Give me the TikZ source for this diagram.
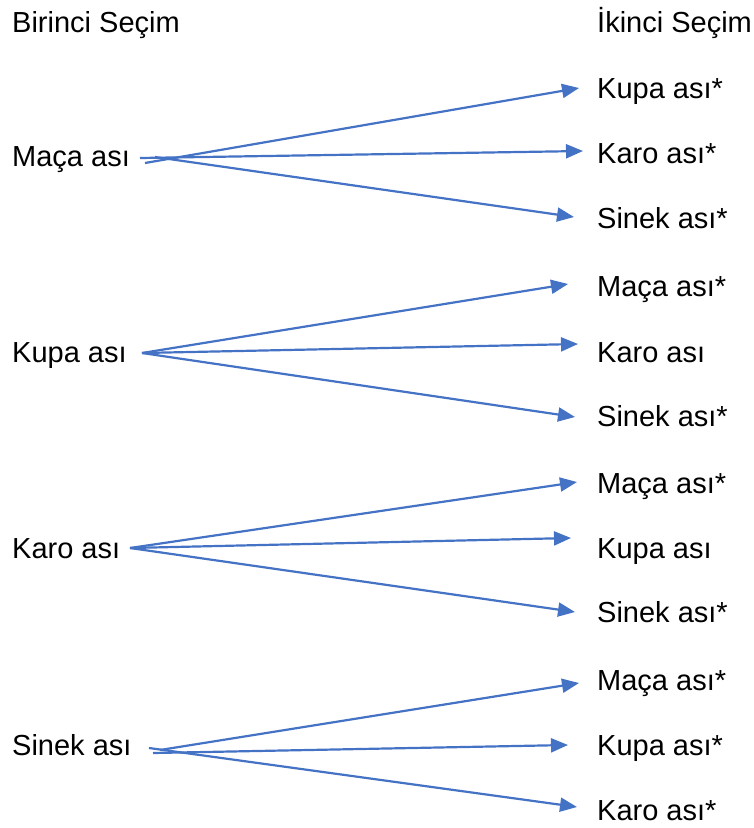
\documentclass[tikz,border=0pt]{standalone}
\usepackage{fontspec}
\setmainfont{Liberation Sans}
\usetikzlibrary{arrows.meta}
\definecolor{arrowblue}{HTML}{4472C4}
\begin{document}
\begin{tikzpicture}[x=1pt,y=-1pt,
  lbl/.style={anchor=base west,inner sep=0pt,font=\fontsize{29}{35}\selectfont},
  conn/.style={draw=arrowblue,line width=2.2pt,-{Triangle[length=17pt,width=14pt]}}]
\useasboundingbox (0,0) rectangle (754,828);
% headers
\node[lbl] (h1) at (12,32) {Birinci Seçim};
\node[lbl] (h2) at (597,32) {İkinci Seçim};
% first choices
\node[lbl] (l1) at (12,166) {Maça ası};
\node[lbl] (l2) at (12,362) {Kupa ası};
\node[lbl] (l3) at (12,558) {Karo ası};
\node[lbl] (l4) at (12,755) {Sinek ası};
% second choices
\node[lbl] (r11) at (597,98) {Kupa ası*};
\node[lbl] (r12) at (597,163) {Karo ası*};
\node[lbl] (r13) at (597,228) {Sinek ası*};
\node[lbl] (r21) at (597,296) {Maça ası*};
\node[lbl] (r22) at (597,362) {Karo ası};
\node[lbl] (r23) at (597,426) {Sinek ası*};
\node[lbl] (r31) at (597,493) {Maça ası*};
\node[lbl] (r32) at (597,558) {Kupa ası};
\node[lbl] (r33) at (597,622) {Sinek ası*};
\node[lbl] (r41) at (597,690) {Maça ası*};
\node[lbl] (r42) at (597,755) {Kupa ası*};
\node[lbl] (r43) at (597,820) {Karo ası*};
% start points
\coordinate (s11) at (145,163);
\coordinate (s12) at (140,158);
\coordinate (s13) at (155,157);
\coordinate (s2) at (142,353);
\coordinate (s3) at (130,548);
\coordinate (s41) at (160,750);
\coordinate (s42) at (153,753);
\coordinate (s43) at (149,748);
% end points
\coordinate (e11) at (579,88);
\coordinate (e12) at (583,151);
\coordinate (e13) at (574,217);
\coordinate (e21) at (568,284);
\coordinate (e22) at (578,344);
\coordinate (e23) at (575,417);
\coordinate (e31) at (577,482);
\coordinate (e32) at (571,538);
\coordinate (e33) at (575,612);
\coordinate (e41) at (579,683);
\coordinate (e42) at (568,745);
\coordinate (e43) at (577,807);
% connectors
\draw[conn] (s11) -- (e11);
\draw[conn] (s12) -- (e12);
\draw[conn] (s13) -- (e13);
\draw[conn] (s2) -- (e21);
\draw[conn] (s2) -- (e22);
\draw[conn] (s2) -- (e23);
\draw[conn] (s3) -- (e31);
\draw[conn] (s3) -- (e32);
\draw[conn] (s3) -- (e33);
\draw[conn] (s41) -- (e41);
\draw[conn] (s42) -- (e42);
\draw[conn] (s43) -- (e43);
\end{tikzpicture}
\end{document}
